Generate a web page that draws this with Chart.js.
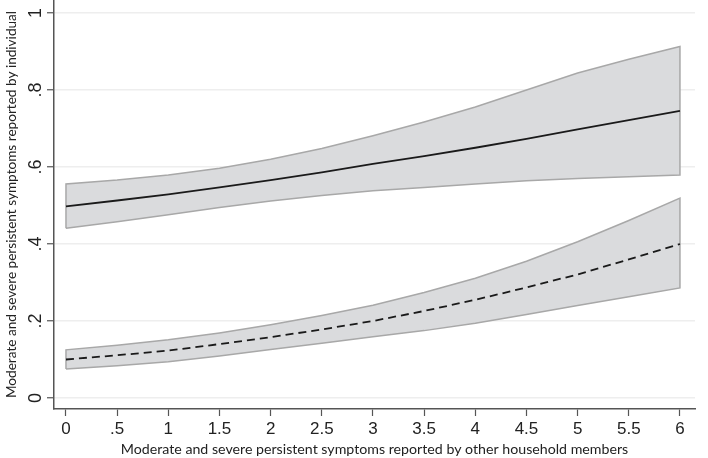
<!DOCTYPE html>
<html>
<head>
<meta charset="utf-8">
<script src="https://cdn.jsdelivr.net/npm/chart.js@4.4.1/dist/chart.umd.min.js"></script>
<style>
  html, body { margin: 0; padding: 0; background: #ffffff; }
  #wrap { width: 708px; height: 458px; position: relative; }
</style>
</head>
<body>
<div id="wrap"><canvas id="c" width="708" height="458"></canvas></div>
<script>
// ---- Data ----
const xValues     = [0, 0.5, 1, 1.5, 2, 2.5, 3, 3.5, 4, 4.5, 5, 5.5, 6];
// Individual (solid line) with confidence band
const solidLine   = [0.498, 0.513, 0.529, 0.547, 0.566, 0.586, 0.608, 0.628, 0.650, 0.673, 0.698, 0.722, 0.746];
const solidLower  = [0.441, 0.458, 0.476, 0.495, 0.512, 0.526, 0.538, 0.547, 0.556, 0.564, 0.570, 0.575, 0.579];
const solidUpper  = [0.556, 0.566, 0.579, 0.597, 0.620, 0.648, 0.681, 0.717, 0.756, 0.800, 0.844, 0.880, 0.913];
// Other household members (dashed line) with confidence band
const dashedLine  = [0.100, 0.111, 0.123, 0.140, 0.158, 0.178, 0.200, 0.226, 0.255, 0.287, 0.321, 0.360, 0.400];
const dashedLower = [0.075, 0.084, 0.094, 0.109, 0.126, 0.142, 0.159, 0.175, 0.194, 0.217, 0.240, 0.263, 0.286];
const dashedUpper = [0.125, 0.137, 0.151, 0.169, 0.190, 0.214, 0.241, 0.274, 0.311, 0.355, 0.406, 0.461, 0.519];
const yTicks      = [0, 0.2, 0.4, 0.6, 0.8, 1];
const xTitle = "Moderate and severe persistent symptoms reported by other household members";
const yTitle = "Moderate and severe persistent symptoms reported by individual";

const pts = (ys) => xValues.map((x, i) => ({ x: x, y: ys[i] }));
const outline = (lo, hi) => {
  const a = xValues.map((x, i) => ({ x: x, y: lo[i] }));
  const b = xValues.map((x, i) => ({ x: x, y: hi[i] })).reverse();
  return a.concat(b, [a[0]]);
};
const fmt = (v) => {
  const r = Math.round(v * 10) / 10;
  if (r === 0) return "0";
  let s = String(r);
  if (s.startsWith("0.")) s = s.slice(1);
  return s;
};

const bandFill = "#dadbdd";
const bandEdge = "#a8a8a8";
const ink = "#1a1a1a";
const axisGray = "#555555";

const chart = new Chart(document.getElementById("c"), {
  type: "scatter",
  data: {
    datasets: [
      { data: pts(solidLower), showLine: true, borderWidth: 0, pointRadius: 0, fill: false, order: 5 },
      { data: pts(solidUpper), showLine: true, borderWidth: 0, pointRadius: 0, fill: "-1", backgroundColor: bandFill, order: 5 },
      { data: pts(dashedLower), showLine: true, borderWidth: 0, pointRadius: 0, fill: false, order: 5 },
      { data: pts(dashedUpper), showLine: true, borderWidth: 0, pointRadius: 0, fill: "-1", backgroundColor: bandFill, order: 5 },
      { data: outline(solidLower, solidUpper), showLine: true, borderColor: bandEdge, borderWidth: 1.5, pointRadius: 0, fill: false, order: 3 },
      { data: outline(dashedLower, dashedUpper), showLine: true, borderColor: bandEdge, borderWidth: 1.5, pointRadius: 0, fill: false, order: 3 },
      { data: pts(solidLine), showLine: true, borderColor: ink, borderWidth: 1.8, pointRadius: 0, fill: false, order: 1 },
      { data: pts(dashedLine), showLine: true, borderColor: ink, borderWidth: 1.8, borderDash: [8, 5], pointRadius: 0, fill: false, order: 1 }
    ]
  },
  options: {
    responsive: false,
    animation: false,
    layout: { padding: { top: 0, right: 13, bottom: 0, left: 0 } },
    plugins: { legend: { display: false }, tooltip: { enabled: false } },
    scales: {
      x: {
        type: "linear",
        min: -0.117,
        max: 6.147,
        afterFit: (s) => { s.height = 49; s.paddingLeft = 0; s.paddingRight = 0; },
        afterBuildTicks: (s) => { s.ticks = xValues.map(v => ({ value: v })); },
        ticks: { callback: fmt, font: { family: "Liberation Sans", size: 17 }, color: "#222", padding: 3, maxRotation: 0, minRotation: 0, includeBounds: false },
        grid: { drawOnChartArea: false, drawTicks: true, tickLength: 7, tickColor: axisGray, tickWidth: 1.2 },
        border: { display: true, color: axisGray, width: 1.5 },
        title: { display: true, text: xTitle, font: { family: "Lato", size: 14.2 }, color: "#222", padding: { top: 0, bottom: 0 } }
      },
      y: {
        type: "linear",
        min: -0.0286,
        max: 1.0338,
        afterFit: (s) => { s.width = 54; s.paddingTop = 0; s.paddingBottom = 0; },
        afterBuildTicks: (s) => { s.ticks = yTicks.map(v => ({ value: v })); },
        ticks: { callback: fmt, font: { family: "Liberation Sans", size: 18 }, color: "#222", padding: 3, minRotation: 90, maxRotation: 90, crossAlign: "center", includeBounds: false },
        grid: { drawOnChartArea: true, color: "#eeeeee", lineWidth: 1.5, drawTicks: true, tickLength: 7, tickColor: axisGray, tickWidth: 1.2 },
        border: { display: true, color: axisGray, width: 1.5 },
        title: { display: true, text: yTitle, font: { family: "Lato", size: 13.6 }, color: "#222", padding: { top: 3, bottom: 0 } }
      }
    }
  }
});
</script>
</body>
</html>
